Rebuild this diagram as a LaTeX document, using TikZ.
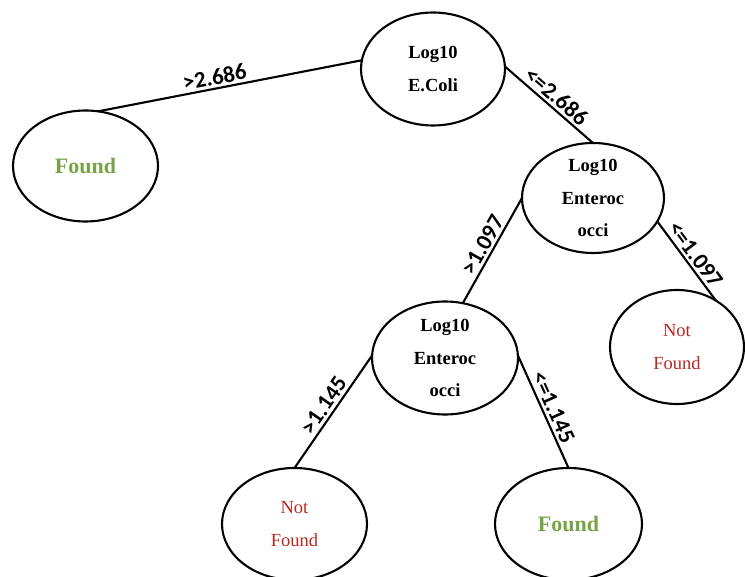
\documentclass[tikz,border=0pt]{standalone}
\usepackage{fontspec}
\setmainfont{Liberation Serif}
\newfontfamily\lblfont{Carlito}
\usetikzlibrary{shapes.geometric}
\definecolor{foundgreen}{RGB}{120,162,70}
\definecolor{notred}{RGB}{185,40,35}
\tikzset{
  oval/.style={draw=black, line width=2.1pt, ellipse, inner sep=0pt, outer sep=0pt},
  splittext/.style={align=center, font=\bfseries\fontsize{18.5}{32.5}\selectfont, text=black},
  foundtext/.style={font=\bfseries\fontsize{22}{26}\selectfont, text=foundgreen},
  nottext/.style={align=center, font=\fontsize{18.5}{32.5}\selectfont, text=notred},
  conn/.style={line width=2.1pt, black},
  cond/.style={sloped, above, inner sep=2.5pt, font=\lblfont\bfseries\fontsize{23}{26}\selectfont}
}
\begin{document}
\begin{tikzpicture}[x=1pt, y=-1pt]
\useasboundingbox (0,0) rectangle (745,577);
% ovals
\node[oval, minimum width=144pt, minimum height=113pt] (root) at (433,69) {};
\node[oval, minimum width=145pt, minimum height=111pt] (found1) at (85.5,166) {};
\node[oval, minimum width=142pt, minimum height=110pt] (ent1) at (593,198) {};
\node[oval, minimum width=146pt, minimum height=113pt] (ent2) at (445,358) {};
\node[oval, minimum width=134pt, minimum height=114pt] (nf1) at (677,347) {};
\node[oval, minimum width=145pt, minimum height=112pt] (nf2) at (294.5,524) {};
\node[oval, minimum width=147pt, minimum height=112pt] (found2) at (568.5,524) {};
% texts
\node[splittext] (rootT) at (root.center) {Log10\\E.Coli};
\node[foundtext] (found1T) at (found1.center) {Found};
\node[splittext] (ent1T) at (ent1.center) {Log10\\Enteroc\\occi};
\node[splittext] (ent2T) at (ent2.center) {Log10\\Enteroc\\occi};
\node[nottext] (nf1T) at (nf1.center) {Not\\Found};
\node[nottext] (nf2T) at (nf2.center) {Not\\Found};
\node[foundtext] (found2T) at (found2.center) {Found};
% connectors
\draw[conn] (found1.77) -- node[cond, pos=0.45] {>2.686} (root.173);
\draw[conn] (root.2) -- node[cond, pos=0.5] {<=2.686} (ent1.north);
\draw[conn] (ent2.72) -- node[cond, pos=0.5] {>1.097} (ent1.180);
\draw[conn] (ent1.-20) -- node[cond, pos=0.5] {<=1.097} (nf1.50);
\draw[conn] (nf2.north) -- node[cond, pos=0.5] {>1.145} (ent2.178);
\draw[conn] (ent2.2) -- node[cond, pos=0.5] {<=1.145} (found2.north);
\end{tikzpicture}
\end{document}
